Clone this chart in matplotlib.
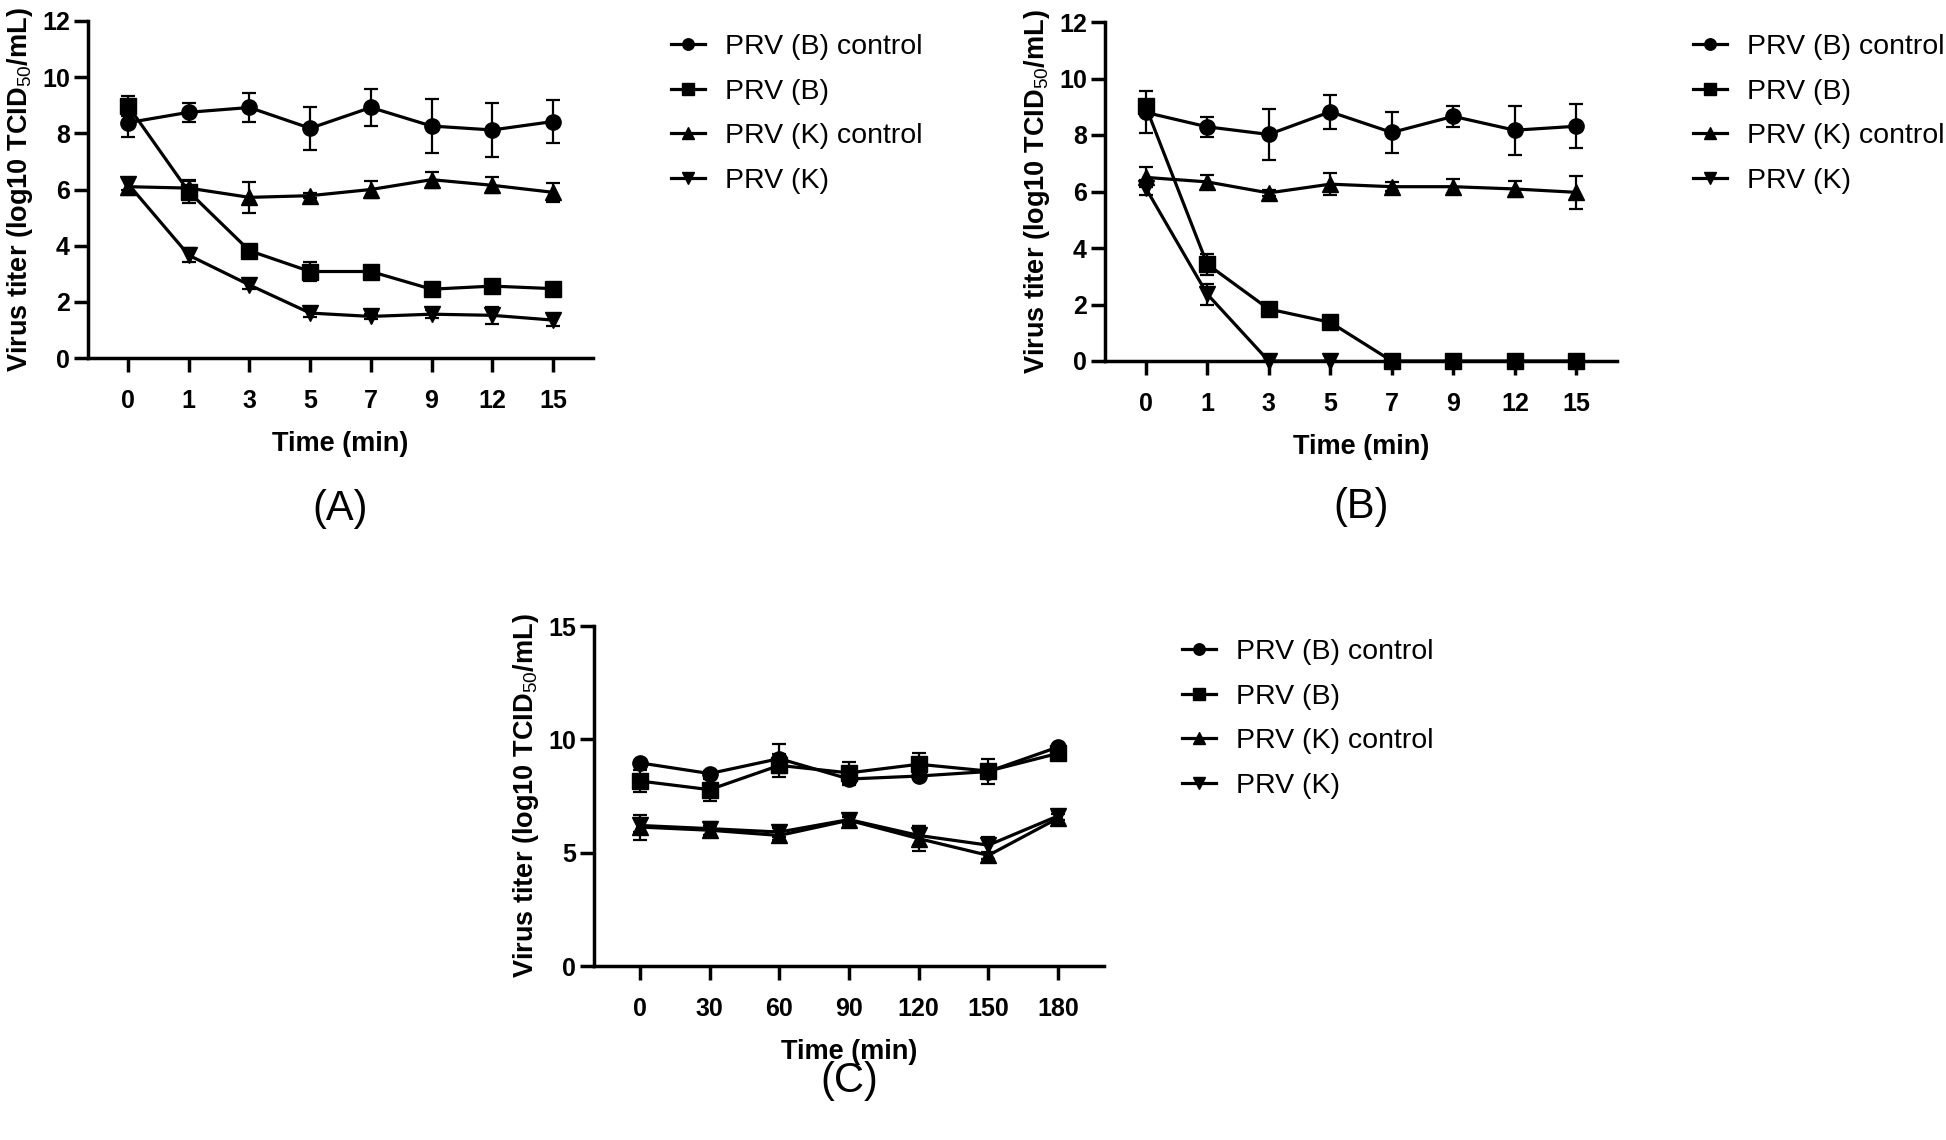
import numpy as np
import matplotlib
matplotlib.use("Agg")
import matplotlib.pyplot as plt

plt.rcParams['font.family'] = ['Liberation Sans', 'DejaVu Sans']
plt.rcParams['mathtext.fontset'] = 'custom'
plt.rcParams['mathtext.rm'] = 'Liberation Sans'
plt.rcParams['mathtext.default'] = 'rm'

labels = ['PRV (B) control', 'PRV (B)', 'PRV (K) control', 'PRV (K)']
markers = ['o', 's', '^', 'v']

# panel A / B time points (min)
times_ab = ['0', '1', '3', '5', '7', '9', '12', '15']
# panel C time points (min)
times_c = ['0', '30', '60', '90', '120', '150', '180']

# (A)
a_bctl = [8.38, 8.75, 8.92, 8.18, 8.92, 8.26, 8.12, 8.42]
a_bctl_err = [0.5, 0.33, 0.5, 0.76, 0.66, 0.95, 0.95, 0.77]
a_b = [8.98, 5.92, 3.82, 3.08, 3.08, 2.45, 2.56, 2.47]
a_b_err = [0.35, 0.4, 0.1, 0.35, 0.1, 0.1, 0.1, 0.1]
a_kctl = [6.1, 6.05, 5.72, 5.78, 6.0, 6.35, 6.15, 5.9]
a_kctl_err = [0.3, 0.3, 0.55, 0.1, 0.3, 0.28, 0.28, 0.33]
a_k = [6.2, 3.66, 2.6, 1.6, 1.48, 1.56, 1.52, 1.35]
a_k_err = [0.2, 0.25, 0.15, 0.15, 0.1, 0.15, 0.3, 0.2]

# (B)
b_bctl = [8.8, 8.29, 8.02, 8.82, 8.09, 8.66, 8.17, 8.31]
b_bctl_err = [0.74, 0.35, 0.9, 0.61, 0.71, 0.38, 0.87, 0.78]
b_b = [9.02, 3.43, 1.84, 1.37, 0.0, 0.0, 0.0, 0.0]
b_b_err = [0.2, 0.37, 0.15, 0.1, 0.0, 0.0, 0.0, 0.0]
b_kctl = [6.5, 6.34, 5.95, 6.26, 6.17, 6.17, 6.09, 5.97]
b_kctl_err = [0.35, 0.25, 0.12, 0.4, 0.15, 0.27, 0.29, 0.59]
b_k = [6.13, 2.37, 0.0, 0.0, np.nan, np.nan, np.nan, np.nan]
b_k_err = [0.27, 0.37, 0.0, 0.0, 0.0, 0.0, 0.0, 0.0]

# (C)
c_bctl = [8.96, 8.49, 9.15, 8.25, 8.38, 8.58, 9.66]
c_bctl_err = [0.1, 0.1, 0.65, 0.28, 0.1, 0.3, 0.1]
c_b = [8.16, 7.78, 8.85, 8.52, 8.9, 8.6, 9.38]
c_b_err = [0.48, 0.49, 0.5, 0.5, 0.5, 0.55, 0.1]
c_kctl = [6.13, 5.99, 5.76, 6.43, 5.62, 4.88, 6.52]
c_kctl_err = [0.55, 0.2, 0.2, 0.15, 0.55, 0.15, 0.2]
c_k = [6.2, 6.06, 5.91, 6.46, 5.76, 5.33, 6.62]
c_k_err = [0.3, 0.3, 0.2, 0.1, 0.4, 0.35, 0.2]


def draw_panel(ax, times, series, errs, yticks, ymax):
    x = np.arange(len(times))
    for y, e, m, lab in zip(series, errs, markers, labels):
        y = np.array(y, dtype=float)
        ax.errorbar(x, y, yerr=e, fmt='none', ecolor='black', elinewidth=1.6,
                    capsize=5, capthick=1.6, clip_on=False, zorder=2)
        ax.plot(x, y, '-', color='black', lw=2.3, marker=m, ms=11,
                label=lab, clip_on=False, zorder=3)
    ax.set_xlim(-0.66, len(times) - 1 + 0.66)
    ax.set_ylim(0, ymax)
    ax.set_xticks(x)
    ax.set_xticklabels(times)
    ax.set_yticks(yticks)
    for s in ['top', 'right']:
        ax.spines[s].set_visible(False)
    for s in ['left', 'bottom']:
        ax.spines[s].set_linewidth(2.5)
    ax.tick_params(axis='both', direction='out', length=10, width=2.5,
                   labelsize=18)
    ax.tick_params(axis='x', pad=12)
    ax.tick_params(axis='y', pad=3)
    for t in ax.get_xticklabels() + ax.get_yticklabels():
        t.set_fontweight('bold')
    ax.set_xlabel('Time (min)', fontsize=19.5, fontweight='bold', labelpad=13)
    ax.set_ylabel(r'Virus titer (log10 TCID$_{50}$/mL)', fontsize=19.5,
                  fontweight='bold', labelpad=5)


W, H = 1946, 1140
fig = plt.figure(figsize=(W / 100, H / 100), dpi=100)

ax_a = fig.add_axes([88 / W, 1 - 358 / H, 505 / W, 337 / H])
ax_b = fig.add_axes([1105 / W, 1 - 361 / H, 512 / W, 339 / H])
ax_c = fig.add_axes([594 / W, 1 - 966 / H, 510 / W, 340 / H])

draw_panel(ax_a, times_ab, [a_bctl, a_b, a_kctl, a_k],
           [a_bctl_err, a_b_err, a_kctl_err, a_k_err], np.arange(0, 13, 2), 12)
draw_panel(ax_b, times_ab, [b_bctl, b_b, b_kctl, b_k],
           [b_bctl_err, b_b_err, b_kctl_err, b_k_err], np.arange(0, 13, 2), 12)
draw_panel(ax_c, times_c, [c_bctl, c_b, c_kctl, c_k],
           [c_bctl_err, c_b_err, c_kctl_err, c_k_err], [0, 5, 10, 15], 15)

# legends
for ax, lx, ly in [(ax_a, 671, 34), (ax_b, 1693, 34), (ax_c, 1182, 639)]:
    ax.legend(loc='upper left', bbox_to_anchor=(lx / W, 1 - ly / H),
              bbox_transform=fig.transFigure, frameon=False, fontsize=20.5,
              handlelength=1.2, handletextpad=0.7, labelspacing=0.65,
              borderpad=0, borderaxespad=0, markerscale=0.75)

# panel letters
for txt, px, py in [('(A)', 340, 509), ('(B)', 1361, 507), ('(C)', 849, 1081)]:
    fig.text(px / W, 1 - py / H, txt, fontsize=30, ha='center', va='center')

fig.savefig('out.png', dpi=100)
